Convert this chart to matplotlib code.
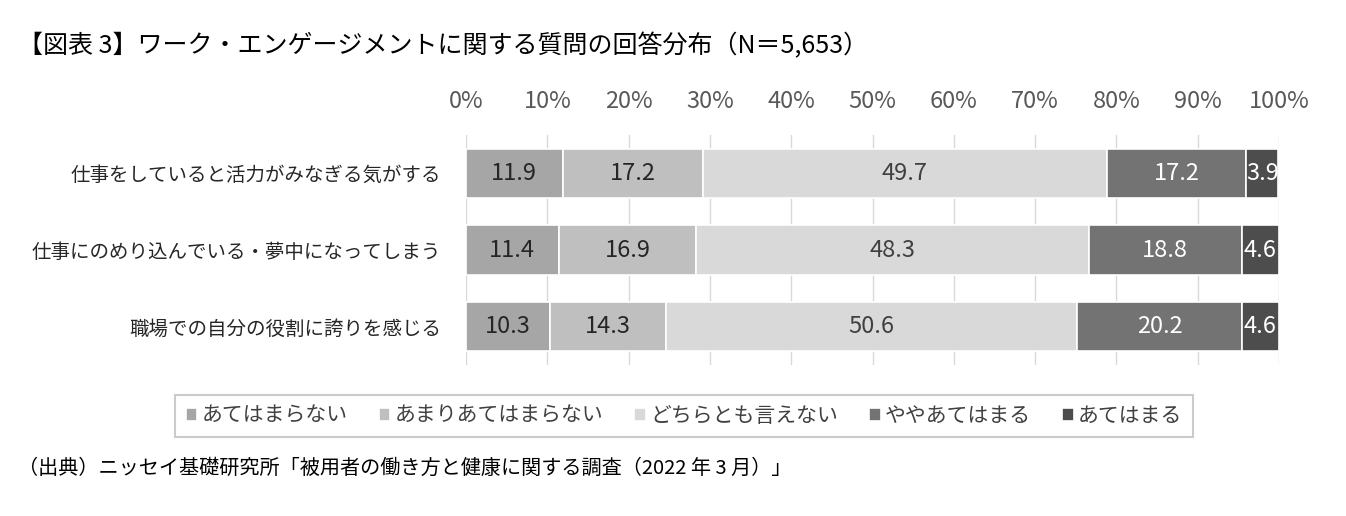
import matplotlib.pyplot as plt
import numpy as np

plt.rcParams['font.family'] = ['Noto Sans CJK JP', 'DejaVu Sans']

questions = ['仕事をしていると活力がみなぎる気がする',
             '仕事にのめり込んでいる・夢中になってしまう',
             '職場での自分の役割に誇りを感じる']
answers = ['あてはまらない', 'あまりあてはまらない', 'どちらとも言えない',
           'ややあてはまる', 'あてはまる']
values = np.array([
    [11.9, 17.2, 49.7, 17.2, 3.9],
    [11.4, 16.9, 48.3, 18.8, 4.6],
    [10.3, 14.3, 50.6, 20.2, 4.6],
])
colors = ['#a6a6a6', '#bfbfbf', '#d9d9d9', '#737373', '#4d4d4d']
text_colors = ['#262626', '#262626', '#404040', 'white', 'white']

W, H = 1346, 516
fig = plt.figure(figsize=(W / 100, H / 100), dpi=100)
ax = fig.add_axes([466 / W, 1 - 365 / H, (1279 - 466) / W, 230 / H])

y = np.arange(len(questions))
left = np.zeros(len(questions))
for j, name in enumerate(answers):
    ax.barh(y, values[:, j], left=left, height=0.64, color=colors[j],
            edgecolor='white', linewidth=1.2, label=name, zorder=2)
    for i in range(len(questions)):
        ax.text(left[i] + values[i, j] / 2, y[i], f'{values[i, j]:.1f}',
                ha='center', va='center', fontsize=17, color=text_colors[j],
                zorder=3)
    left += values[:, j]

ax.set_xlim(0, 100)
ax.set_ylim(len(questions) - 0.5, -0.5)
ax.set_yticks(y)
ax.set_yticklabels(questions, fontsize=14, color='#262626')
ax.set_xticks(np.arange(0, 101, 10))
ax.set_xticklabels([f'{v}%' for v in range(0, 101, 10)], fontsize=17, color='#595959')
ax.xaxis.tick_top()
ax.tick_params(axis='both', length=0)
ax.tick_params(axis='x', pad=16)
ax.tick_params(axis='y', pad=18)
ax.grid(axis='x', color='#d9d9d9', linewidth=1, zorder=0)
for s in ax.spines.values():
    s.set_visible(False)

leg = fig.legend(loc='center', bbox_to_anchor=((175 + 1193) / 2 / W, 1 - 416 / H),
                 ncol=5, fontsize=15, frameon=True, fancybox=False,
                 handlelength=0.55, handleheight=0.55, handletextpad=0.2,
                 columnspacing=1.5, borderpad=0.5, borderaxespad=0)
leg.get_frame().set_edgecolor('#bfbfbf')
leg.get_frame().set_linewidth(1.5)
for t in leg.get_texts():
    t.set_color('#404040')

fig.text(18 / W, 1 - 46 / H, '【図表 3】ワーク・エンゲージメントに関する質問の回答分布（N＝5,653）',
         fontsize=18, color='black', ha='left', va='center')
fig.text(18 / W, 1 - 468 / H, '（出典）ニッセイ基礎研究所「被用者の働き方と健康に関する調査（2022 年 3 月）」',
         fontsize=14.5, color='black', ha='left', va='center')

fig.savefig('out.png', dpi=100)
